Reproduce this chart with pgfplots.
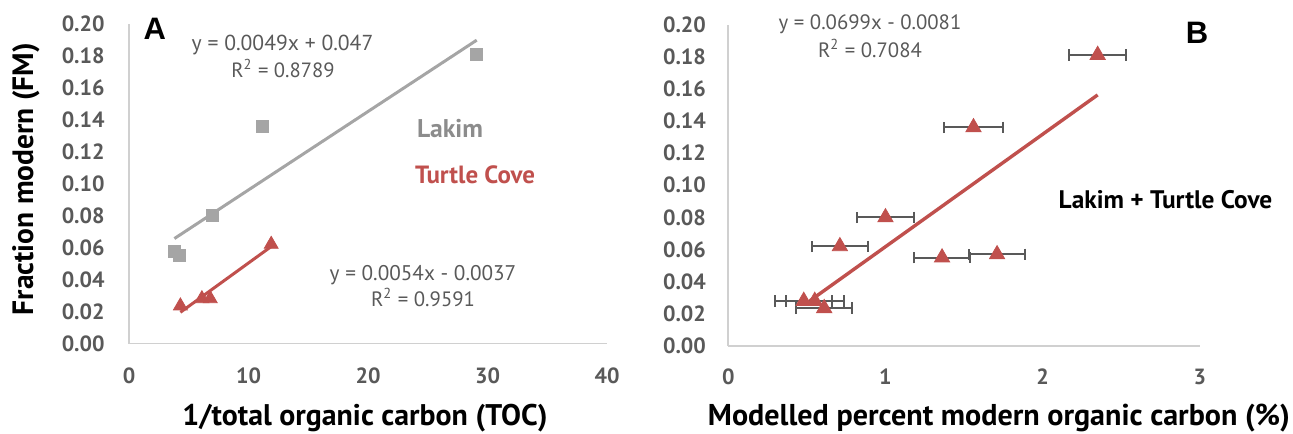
\documentclass[border=0pt]{standalone}
\usepackage{fontspec}
\setmainfont{PT Sans}
\newfontfamily\arial{Liberation Sans}
\usepackage{graphicx}
\usepackage{pgfplots}
\usepackage{pgfplotstable}
\pgfplotsset{compat=1.18}
\definecolor{lgray}{HTML}{A5A5A5}
\definecolor{tred}{HTML}{C0504D}
\definecolor{tickc}{HTML}{595959}
\definecolor{axl}{HTML}{D0D0D0}
\definecolor{lakimc}{HTML}{8C8C8C}
\newcommand\fitw[2]{\resizebox{#1}{!}{#2}}

\pgfplotstableread{
x y
3.8 0.0575
4.2 0.0550
7.0 0.0800
11.15 0.1360
29.1 0.1810
}\lakim
\pgfplotstableread{
x y
4.3 0.0235
6.1 0.0280
6.8 0.0280
11.9 0.0620
}\turtle
\pgfplotstableread{
x y ex
2.35 0.181 0.18
1.56 0.136 0.185
1.00 0.080 0.18
0.71 0.062 0.18
1.36 0.055 0.18
1.71 0.057 0.18
0.48 0.028 0.18
0.55 0.028 0.185
0.61 0.0235 0.18
}\both

\pgfplotsset{myax/.style={
  scale only axis, axis lines=left, axis line style={axl, line width=0.9pt, -},
  major tick length=0pt, clip=false,
  ymin=0, ymax=0.2,
  ytick={0,0.02,0.04,0.06,0.08,0.1,0.12,0.14,0.16,0.18,0.2},
  yticklabel style={/pgf/number format/fixed, /pgf/number format/fixed zerofill, /pgf/number format/precision=2},
  /pgf/number format/assume math mode=true,
  tick label style={font=\bfseries\fontsize{11}{13}\selectfont, text=tickc, inner sep=0pt},
  yticklabel style={anchor=east},
  xticklabel style={anchor=base},
}}

\begin{document}
\begin{tikzpicture}
\begin{axis}[myax, at={(64.5pt,-171.75pt)}, anchor=south west,
  width=239pt, height=160pt, xmin=0, xmax=40, xtick={0,10,20,30,40},
  yticklabel style={xshift=-12pt}, xticklabel style={yshift=-20pt}]
\addplot[only marks, mark=square*, mark size=3pt, color=lgray] table[x=x,y=y]{\lakim};
\addplot[no marks, color=lgray, line width=1.5pt] coordinates {(3.8,0.0656) (29.1,0.1896)};
\addplot[only marks, mark=triangle*, mark size=4pt, color=tred] table[x=x,y=y]{\turtle};
\addplot[no marks, color=tred, line width=1.5pt] coordinates {(4.3,0.0195) (11.9,0.0606)};
\end{axis}
\begin{axis}[myax, at={(364.15pt,-173pt)}, anchor=south west,
  width=235.75pt, height=160.75pt, xmin=0, xmax=3, xtick={0,1,2,3},
  yticklabel style={xshift=-11pt}, xticklabel style={yshift=-19pt}]
\addplot[only marks, mark=triangle*, mark size=4.4pt, color=tred,
  error bars/.cd, x dir=both, x explicit,
  error bar style={color=tickc, line width=1pt},
  error mark options={rotate=90, mark size=2.9pt, line width=1pt, color=tickc}]
  table[x=x,y=y,x error=ex]{\both};
\addplot[no marks, color=tred, line width=1.7pt] coordinates {(0.52,0.0282) (2.35,0.1562)};
\end{axis}
\begin{scope}[x=0.5pt,y=-0.5pt]
\node[font=\arial\bfseries\fontsize{15.5}{18}\selectfont] at (154.7,29) {A};
\node[font=\arial\bfseries\fontsize{15.5}{18}\selectfont] at (1197,33) {B};
\node[text=tickc, anchor=base, inner sep=0pt] at (282.5,50.7) {\fitw{90.8pt}{y = 0.0049x + 0.047}};
\node[text=tickc, anchor=base, inner sep=0pt] at (283,77.3) {\fitw{51.6pt}{R\textsuperscript{2} = 0.8789}};
\node[text=tickc, anchor=base, inner sep=0pt] at (423,280) {\fitw{93.3pt}{y = 0.0054x - 0.0037}};
\node[text=tickc, anchor=base, inner sep=0pt] at (423,306) {\fitw{52pt}{R\textsuperscript{2} = 0.9591}};
\node[text=tickc, anchor=base, inner sep=0pt] at (870,30) {\fitw{91.3pt}{y = 0.0699x - 0.0081}};
\node[text=tickc, anchor=base, inner sep=0pt] at (870,57.3) {\fitw{51.9pt}{R\textsuperscript{2} = 0.7084}};
\node[text=lakimc, anchor=base, inner sep=0pt] at (450,137.3) {\fitw{33pt}{\bfseries Lakim}};
\node[text=tred, anchor=base, inner sep=0pt] at (475,183.3) {\fitw{60pt}{\bfseries Turtle Cove}};
\node[text=black, anchor=base, inner sep=0pt] at (1165.5,208.3) {\fitw{106.8pt}{\bfseries Lakim + Turtle Cove}};
\node[anchor=base, inner sep=0pt] at (365,425.5) {\fitw{182.5pt}{\bfseries 1/total organic carbon (TOC)}};
\node[anchor=base, inner sep=0pt] at (999,425.5) {\fitw{291pt}{\bfseries Modelled percent modern organic carbon (\%)}};
\node[anchor=base, inner sep=0pt, rotate=90] at (33,179) {\fitw{136pt}{\bfseries Fraction modern (FM)}};
\end{scope}
\pgfresetboundingbox
\path[use as bounding box] (0,0) rectangle (646.5pt,-216.5pt);
\end{tikzpicture}
\end{document}
